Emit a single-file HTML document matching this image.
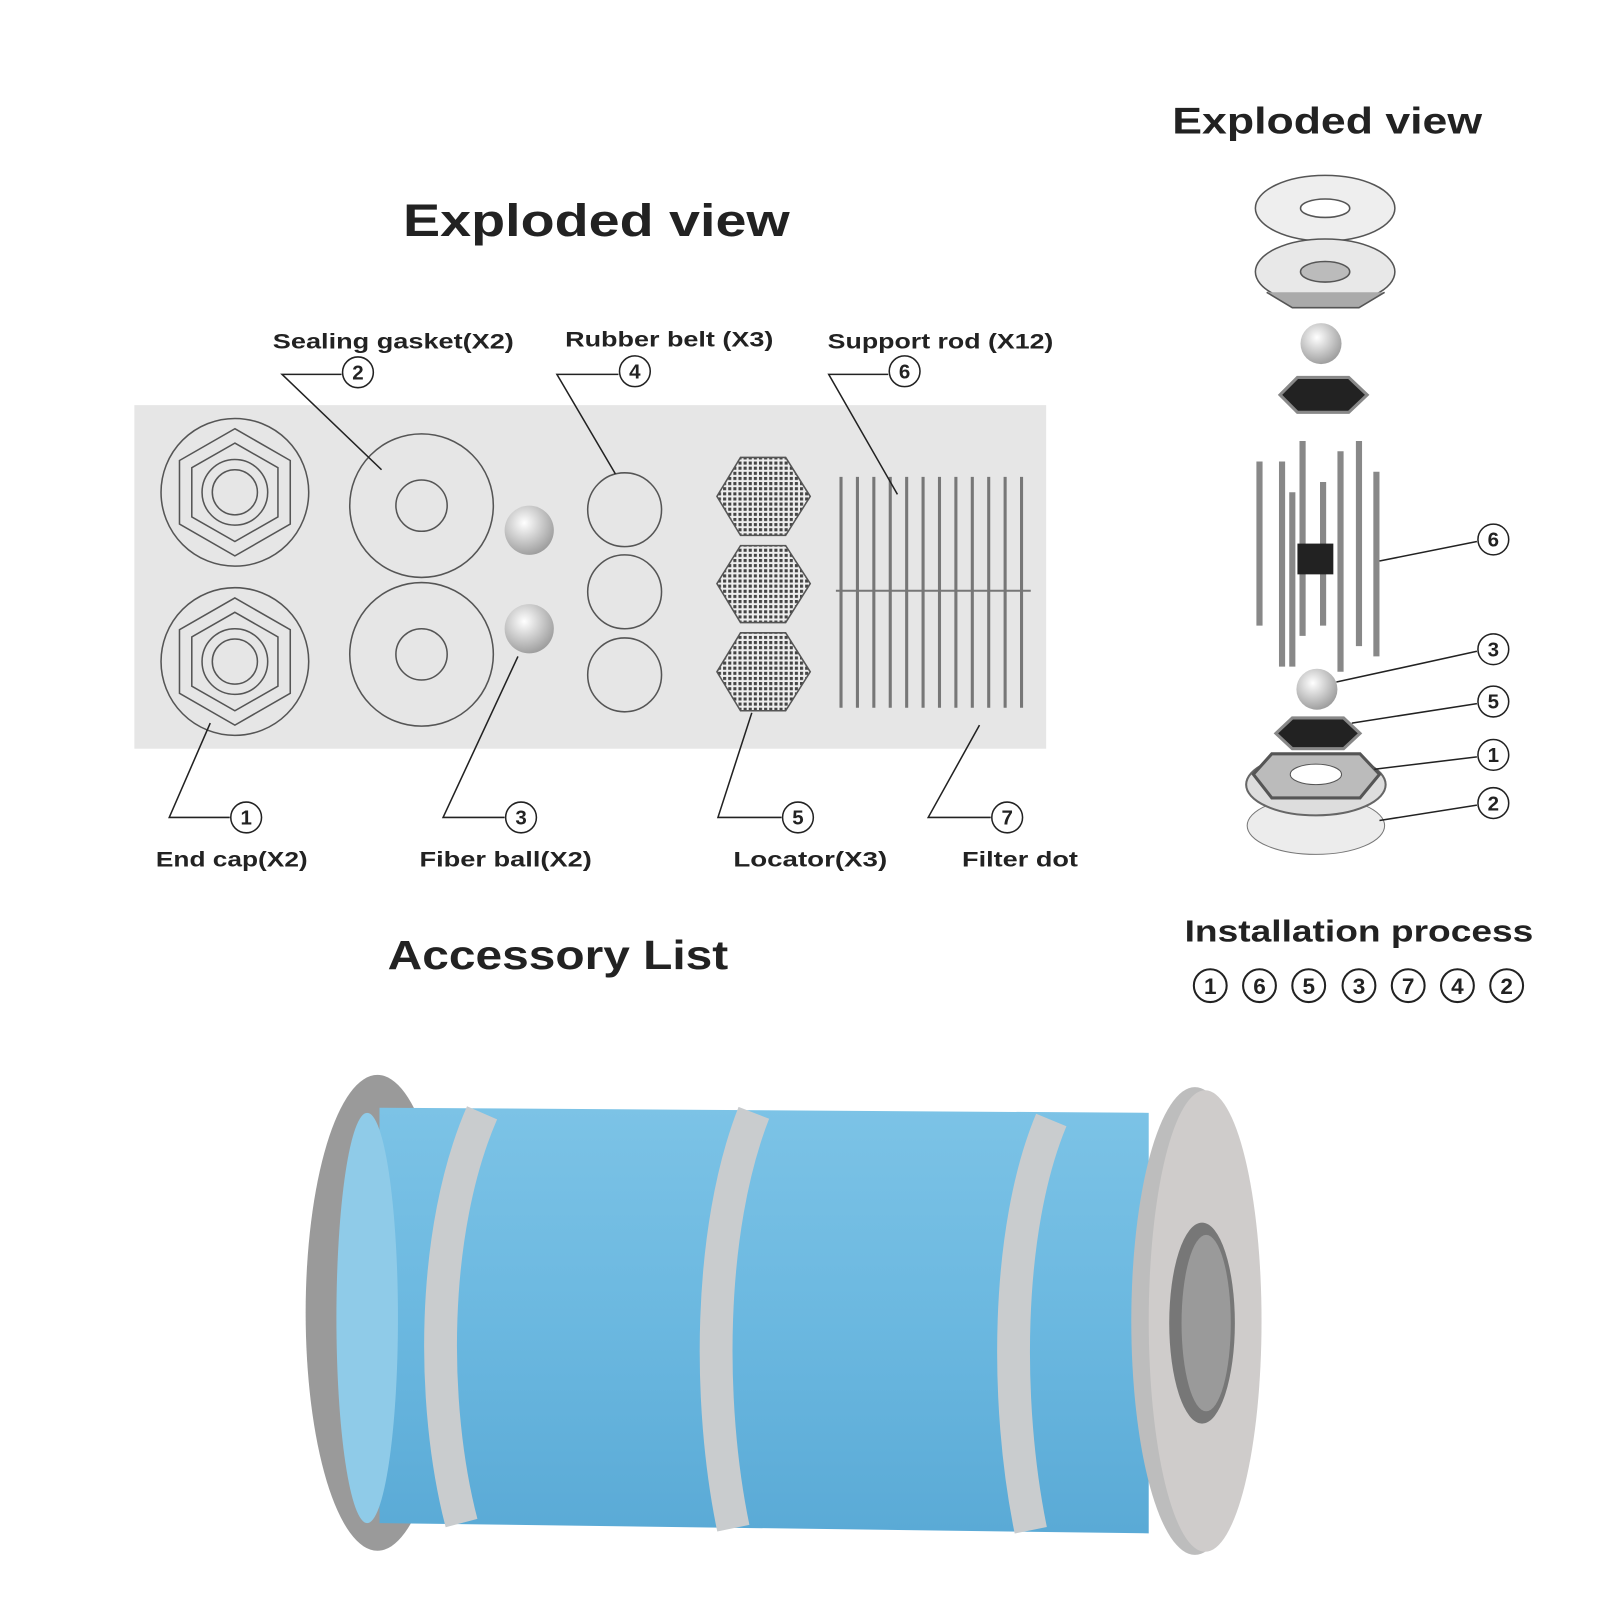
<!DOCTYPE html>
<html><head><meta charset="utf-8"><style>
html,body{margin:0;padding:0;background:#fff}
svg{display:block}
text{font-family:"Liberation Sans",sans-serif;font-weight:bold;fill:#222}
</style></head><body>
<svg width="1600" height="1600" viewBox="0 0 1560 1560" xmlns="http://www.w3.org/2000/svg">
<defs>
<radialGradient id="ball" cx="0.4" cy="0.35" r="0.7"><stop offset="0" stop-color="#fff"/><stop offset="1" stop-color="#999"/></radialGradient>
<pattern id="mesh" width="5" height="5" patternUnits="userSpaceOnUse"><rect width="5" height="5" fill="#eee"/><rect width="3" height="3" fill="#444"/></pattern>
<linearGradient id="blue" x1="0" y1="0" x2="0" y2="1"><stop offset="0" stop-color="#7cc3e6"/><stop offset="0.5" stop-color="#6bb8e0"/><stop offset="1" stop-color="#5aaad6"/></linearGradient>
</defs>
<rect width="1560" height="1560" fill="#fff"/>
<text x="393" y="230" font-size="44" textLength="377" lengthAdjust="spacingAndGlyphs">Exploded view</text>
<text x="1143" y="130" font-size="36" textLength="302" lengthAdjust="spacingAndGlyphs">Exploded view</text>
<text x="378" y="945" font-size="40" textLength="332" lengthAdjust="spacingAndGlyphs">Accessory List</text>
<text x="1155" y="918" font-size="30" textLength="340" lengthAdjust="spacingAndGlyphs">Installation process</text>
<g font-size="22" fill="none" stroke="#222" stroke-width="2">
<circle cx="1180" cy="961" r="16"/><circle cx="1228" cy="961" r="16"/><circle cx="1276" cy="961" r="16"/><circle cx="1325" cy="961" r="16"/><circle cx="1373" cy="961" r="16"/><circle cx="1421" cy="961" r="16"/><circle cx="1469" cy="961" r="16"/>
</g>
<g font-size="22" font-weight="normal" text-anchor="middle">
<text x="1180" y="969">1</text><text x="1228" y="969">6</text><text x="1276" y="969">5</text><text x="1325" y="969">3</text><text x="1373" y="969">7</text><text x="1421" y="969">4</text><text x="1469" y="969">2</text>
</g>
<rect x="131" y="395" width="889" height="335" fill="#e6e6e6"/>
<g fill="none" stroke="#555" stroke-width="1.5">
<circle cx="229" cy="480" r="72"/><polygon points="229,418 283,449 283,511 229,542 175,511 175,449"/><polygon points="229,432 271,456 271,504 229,528 187,504 187,456"/><circle cx="229" cy="480" r="32"/><circle cx="229" cy="480" r="22"/>
<circle cx="229" cy="645" r="72"/><polygon points="229,583 283,614 283,676 229,707 175,676 175,614"/><polygon points="229,597 271,621 271,669 229,693 187,669 187,621"/><circle cx="229" cy="645" r="32"/><circle cx="229" cy="645" r="22"/>
<circle cx="411" cy="493" r="70"/><circle cx="411" cy="493" r="25"/>
<circle cx="411" cy="638" r="70"/><circle cx="411" cy="638" r="25"/>
<circle cx="609" cy="497" r="36"/><circle cx="609" cy="577" r="36"/><circle cx="609" cy="658" r="36"/>
</g>
<circle cx="516" cy="517" r="24" fill="url(#ball)"/><circle cx="516" cy="613" r="24" fill="url(#ball)"/>
<g stroke="#555" stroke-width="1.5" fill="url(#mesh)">
<polygon points="722,446 766,446 790,484 766,522 722,522 699,484"/>
<polygon points="722,532 766,532 790,569 766,607 722,607 699,569"/>
<polygon points="722,617 766,617 790,655 766,693 722,693 699,655"/>
</g>
<g stroke="#777" stroke-width="3">
<line x1="820" y1="465" x2="820" y2="690"/><line x1="836" y1="465" x2="836" y2="690"/><line x1="852" y1="465" x2="852" y2="690"/><line x1="868" y1="465" x2="868" y2="690"/><line x1="884" y1="465" x2="884" y2="690"/><line x1="900" y1="465" x2="900" y2="690"/><line x1="916" y1="465" x2="916" y2="690"/><line x1="932" y1="465" x2="932" y2="690"/><line x1="948" y1="465" x2="948" y2="690"/><line x1="964" y1="465" x2="964" y2="690"/><line x1="980" y1="465" x2="980" y2="690"/><line x1="996" y1="465" x2="996" y2="690"/>
<line x1="815" y1="576" x2="1005" y2="576" stroke-width="2"/>
</g>
<g fill="none" stroke="#222" stroke-width="1.5">
<polyline points="372,458 275,365 333,365"/><circle cx="349" cy="363" r="15"/>
<polyline points="600,462 543,365 603,365"/><circle cx="619" cy="362" r="15"/>
<polyline points="875,482 808,365 866,365"/><circle cx="882" cy="362" r="15"/>
<polyline points="205,705 165,797 224,797"/><circle cx="240" cy="797" r="15"/>
<polyline points="505,640 432,797 492,797"/><circle cx="508" cy="797" r="15"/>
<polyline points="733,695 700,797 762,797"/><circle cx="778" cy="797" r="15"/>
<polyline points="955,707 905,797 966,797"/><circle cx="982" cy="797" r="15"/>
</g>
<g font-size="20" font-weight="normal" text-anchor="middle">
<text x="349" y="370">2</text><text x="619" y="369">4</text><text x="882" y="369">6</text><text x="240" y="804">1</text><text x="508" y="804">3</text><text x="778" y="804">5</text><text x="982" y="804">7</text>
</g>
<g font-size="21">
<text x="266" y="340" textLength="235" lengthAdjust="spacingAndGlyphs">Sealing gasket(X2)</text>
<text x="551" y="338" textLength="203" lengthAdjust="spacingAndGlyphs">Rubber belt (X3)</text>
<text x="807" y="340" textLength="220" lengthAdjust="spacingAndGlyphs">Support rod (X12)</text>
<text x="152" y="845" textLength="148" lengthAdjust="spacingAndGlyphs">End cap(X2)</text>
<text x="409" y="845" textLength="168" lengthAdjust="spacingAndGlyphs">Fiber ball(X2)</text>
<text x="715" y="845" textLength="150" lengthAdjust="spacingAndGlyphs">Locator(X3)</text>
<text x="938" y="845" textLength="113" lengthAdjust="spacingAndGlyphs">Filter dot</text>
</g>
<g stroke="#555" stroke-width="1.5">
<ellipse cx="1292" cy="203" rx="68" ry="32" fill="#eee"/><ellipse cx="1292" cy="203" rx="24" ry="9" fill="#fff"/>
<ellipse cx="1292" cy="265" rx="68" ry="32" fill="#e8e8e8"/><ellipse cx="1292" cy="265" rx="24" ry="10" fill="#bbb"/>
<path d="M1235,285 L1260,300 L1325,300 L1350,285" fill="#aaa"/>
</g>
<circle cx="1288" cy="335" r="20" fill="url(#ball)"/>
<polygon points="1265,368 1315,368 1333,385 1315,402 1265,402 1248,385" fill="#222" stroke="#888" stroke-width="3"/>
<g stroke="#888" stroke-width="6">
<line x1="1228" y1="450" x2="1228" y2="610"/><line x1="1250" y1="450" x2="1250" y2="650"/><line x1="1270" y1="430" x2="1270" y2="620"/><line x1="1290" y1="470" x2="1290" y2="610"/><line x1="1307" y1="440" x2="1307" y2="655"/><line x1="1325" y1="430" x2="1325" y2="630"/><line x1="1342" y1="460" x2="1342" y2="640"/><line x1="1260" y1="480" x2="1260" y2="650"/>
</g>
<rect x="1265" y="530" width="35" height="30" fill="#222"/>
<circle cx="1284" cy="672" r="20" fill="url(#ball)"/>
<polygon points="1260,700 1310,700 1326,715 1310,730 1260,730 1244,715" fill="#222" stroke="#888" stroke-width="3"/>
<ellipse cx="1283" cy="805" rx="67" ry="28" fill="#ececec" stroke="#777"/>
<ellipse cx="1283" cy="765" rx="68" ry="30" fill="#ddd" stroke="#666" stroke-width="2"/>
<polygon points="1240,735 1326,735 1345,755 1326,778 1240,778 1222,755" fill="#bbb" stroke="#555" stroke-width="3"/>
<ellipse cx="1283" cy="755" rx="25" ry="10" fill="#fff" stroke="#555"/>
<g fill="none" stroke="#222" stroke-width="1.5">
<line x1="1345" y1="547" x2="1440" y2="528"/><circle cx="1456" cy="526" r="15"/>
<line x1="1303" y1="665" x2="1440" y2="635"/><circle cx="1456" cy="633" r="15"/>
<line x1="1318" y1="705" x2="1440" y2="686"/><circle cx="1456" cy="684" r="15"/>
<line x1="1340" y1="750" x2="1440" y2="738"/><circle cx="1456" cy="736" r="15"/>
<line x1="1345" y1="800" x2="1440" y2="785"/><circle cx="1456" cy="783" r="15"/>
</g>
<g font-size="20" font-weight="normal" text-anchor="middle">
<text x="1456" y="533">6</text><text x="1456" y="640">3</text><text x="1456" y="691">5</text><text x="1456" y="743">1</text><text x="1456" y="790">2</text>
</g>
<ellipse cx="368" cy="1280" rx="70" ry="232" fill="#9a9a9a"/>
<path d="M370,1080 L1120,1085 L1120,1495 L370,1485 Z" fill="url(#blue)"/>
<ellipse cx="358" cy="1285" rx="30" ry="200" fill="#8fcbe8"/>
<g fill="none" stroke="#c9ccce" stroke-width="32">
<path d="M470,1085 C420,1200 420,1370 450,1485"/>
<path d="M735,1085 C690,1200 690,1370 715,1490"/>
<path d="M1025,1092 C980,1200 980,1370 1005,1492"/>
</g>
<ellipse cx="1165" cy="1288" rx="62" ry="228" fill="#bdbdbd"/>
<ellipse cx="1175" cy="1288" rx="55" ry="225" fill="#cfcccb"/>
<ellipse cx="1172" cy="1290" rx="32" ry="98" fill="#777"/>
<ellipse cx="1176" cy="1290" rx="24" ry="86" fill="#9a9a9a"/>
</svg>
</body></html>
